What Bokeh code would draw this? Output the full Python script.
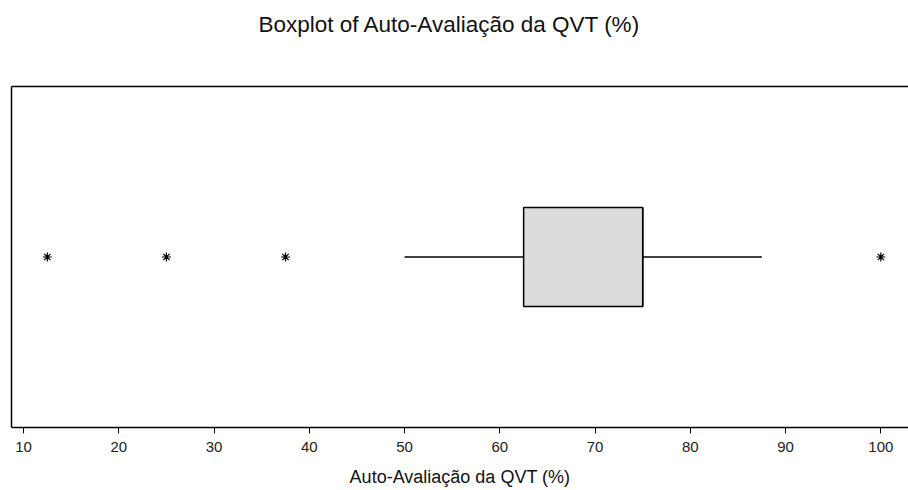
from bokeh.plotting import figure
from bokeh.models import LinearAxis, FixedTicker, Range1d, ColumnDataSource
from bokeh.embed import file_html
from bokeh.resources import INLINE

# Data
title_text = "Boxplot of Auto-Avaliação da QVT (%)"
axis_title = "Auto-Avaliação da QVT (%)"
q1 = [62.5]
median = [75.0]
q3 = [75.0]
whisker_low = [50.0]
whisker_high = [87.5]
outliers = [12.5, 25.0, 37.5, 100.0]
tick_values = [10, 20, 30, 40, 50, 60, 70, 80, 90, 100]

x_start, x_end = 8.74, 102.9
y_center = 0.5
box_height = 0.29

FONT = "Liberation Sans"

p = figure(width=908, height=490, output_backend="svg", toolbar_location=None,
           x_range=Range1d(x_start, x_end), y_range=Range1d(0, 1),
           min_border_left=11, min_border_right=0, min_border_top=86, min_border_bottom=63)
p.outline_line_color = None
p.grid.visible = False
p.background_fill_color = "white"
p.border_fill_color = "white"

p.title.text = title_text
p.title.align = "left"
p.title.offset = 247
p.title.text_font = FONT
p.title.text_font_size = "22.5px"
p.title.text_font_style = "normal"
p.title.text_color = "#111111"
p.title.standoff = 0

# bottom axis
xa = p.xaxis[0]
xa.ticker = FixedTicker(ticks=tick_values)
xa.axis_line_color = "black"
xa.axis_line_width = 1.5
xa.major_tick_out = 6
xa.major_tick_in = 0
xa.major_tick_line_color = "black"
xa.minor_tick_line_color = None
xa.major_label_text_font = FONT
xa.major_label_text_font_size = "15px"
xa.major_label_text_color = "#222222"
xa.major_label_standoff = 8
xa.axis_label = axis_title
xa.axis_label_text_font = FONT
xa.axis_label_text_font_size = "18px"
xa.axis_label_text_font_style = "normal"
xa.axis_label_text_color = "#111111"
xa.axis_label_standoff = 12

# hide default y axis; use bare axes as left and top frame borders
p.yaxis.visible = False
left_ax = LinearAxis(ticker=FixedTicker(ticks=[]), axis_line_color="black", axis_line_width=1.5,
                     major_tick_line_color=None, minor_tick_line_color=None,
                     major_label_text_font_size="0px", major_label_standoff=0)
p.add_layout(left_ax, "left")
# top border axis; its (invisible) label reserves the space between title and frame
top_ax = LinearAxis(ticker=FixedTicker(ticks=[]), axis_line_color="black", axis_line_width=1.5,
                    major_tick_line_color=None, minor_tick_line_color=None,
                    major_label_text_font_size="0px", major_label_standoff=0,
                    axis_label=".", axis_label_text_alpha=0, axis_label_text_font_size="2px",
                    axis_label_standoff=46)
p.add_layout(top_ax, "above")

src = ColumnDataSource(dict(y=[y_center], q1=q1, q3=q3, med=median, lo=whisker_low, hi=whisker_high))
# whiskers
p.segment(x0="lo", y0="y", x1="q1", y1="y", source=src, line_color="black", line_width=1.5)
p.segment(x0="q3", y0="y", x1="hi", y1="y", source=src, line_color="black", line_width=1.5)
# box
p.hbar(y="y", left="q1", right="q3", height=box_height, source=src,
       fill_color="#dcdcdc", line_color="black", line_width=1.5)
# median
p.segment(x0="med", y0=y_center - box_height / 2, x1="med", y1=y_center + box_height / 2,
          source=src, line_color="black", line_width=1.5)
# outliers
p.scatter(x=outliers, y=[y_center] * len(outliers), marker="asterisk", size=9,
          line_color="black", line_width=1.2)

open("out.html", "w").write(file_html(p, INLINE))
